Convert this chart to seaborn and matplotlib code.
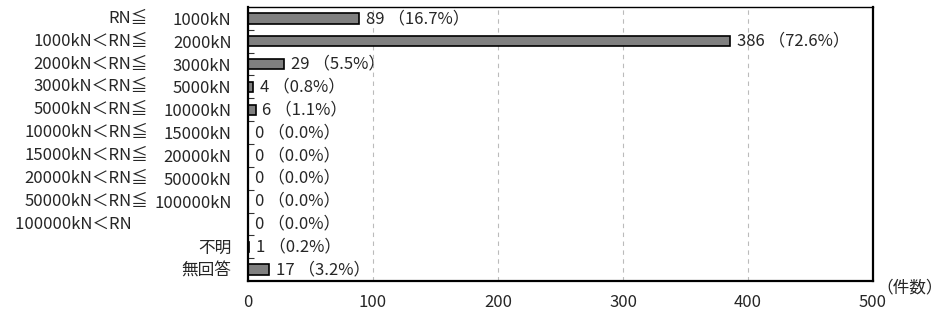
import matplotlib
matplotlib.use("Agg")
import matplotlib.pyplot as plt
import seaborn as sns
import pandas as pd
import numpy as np
from matplotlib.ticker import FixedLocator

# Capacity classes: (left part, right part) of each label
class_prefix = ["RN≦", "1000kN＜RN≦", "2000kN＜RN≦", "3000kN＜RN≦", "5000kN＜RN≦",
                "10000kN＜RN≦", "15000kN＜RN≦", "20000kN＜RN≦", "50000kN＜RN≦",
                "100000kN＜RN　", "", ""]
class_suffix = ["1000kN", "2000kN", "3000kN", "5000kN", "10000kN", "15000kN",
                "20000kN", "50000kN", "100000kN", "", "不明", "無回答"]
counts = [89, 386, 29, 4, 6, 0, 0, 0, 0, 0, 1, 17]
percents = [16.7, 72.6, 5.5, 0.8, 1.1, 0.0, 0.0, 0.0, 0.0, 0.0, 0.2, 3.2]
x_ticks = [0, 100, 200, 300, 400, 500]
unit_label = "（件数）"

sns.set_theme(style="white")
plt.rcParams["font.family"] = ["Noto Sans CJK JP", "DejaVu Sans"]
FS = 12

cats = [p + "|" + s + str(i) for i, (p, s) in enumerate(zip(class_prefix, class_suffix))]
df = pd.DataFrame({"cat": cats, "count": counts})

fig = plt.figure(figsize=(9.41, 3.21), dpi=100)
ax = fig.add_axes([0.2636, 0.1246, 0.6641, 0.8536])

sns.barplot(data=df, y="cat", x="count", orient="h", order=cats, color="#808080",
            saturation=1, edgecolor="black", linewidth=1.2, width=0.45, ax=ax)

ax.set_xlim(0, 500)
ax.set_ylim(len(cats) - 0.5, -0.5)
ax.set_xticks(x_ticks)
ax.set_xticklabels([str(v) for v in x_ticks], fontsize=FS)
ax.set_xlabel("")
ax.set_ylabel("")

# y tick labels: right part of each class name
ax.set_yticks(range(len(cats)))
ax.set_yticklabels(class_suffix, fontsize=FS)
ax.tick_params(axis="y", which="major", length=0, pad=12)
ax.tick_params(axis="x", length=0, pad=9)
ax.yaxis.set_minor_locator(FixedLocator(np.arange(0.5, len(cats) - 1, 1.0)))
ax.tick_params(axis="y", which="minor", left=True, direction="in", length=4,
               width=0.8, color="#333333")

# left part of each class name, aligned on the ≦ column
for i, p in enumerate(class_prefix):
    if p:
        ax.annotate(p, xy=(0, i), xycoords=ax.get_yaxis_transform(),
                    xytext=(-72, 0), textcoords="offset points",
                    ha="right", va="center", fontsize=FS)

# value labels
for i, (c, pc) in enumerate(zip(counts, percents)):
    ax.annotate(f"{c} （{pc:.1f}%）", xy=(c, i), xytext=(5, 0), textcoords="offset points",
                ha="left", va="center", fontsize=FS)

ax.grid(axis="x", linestyle=(0, (4, 4)), color="#bbbbbb", linewidth=0.8)
ax.set_axisbelow(True)
for side in ["left", "bottom", "right"]:
    ax.spines[side].set_color("black")
    ax.spines[side].set_linewidth(1.6)
ax.spines["top"].set_color("black")
ax.spines["top"].set_linewidth(1.0)

ax.text(1.005, -0.025, unit_label, transform=ax.transAxes, ha="left", va="center", fontsize=FS)

fig.savefig("out.png", dpi=100)
